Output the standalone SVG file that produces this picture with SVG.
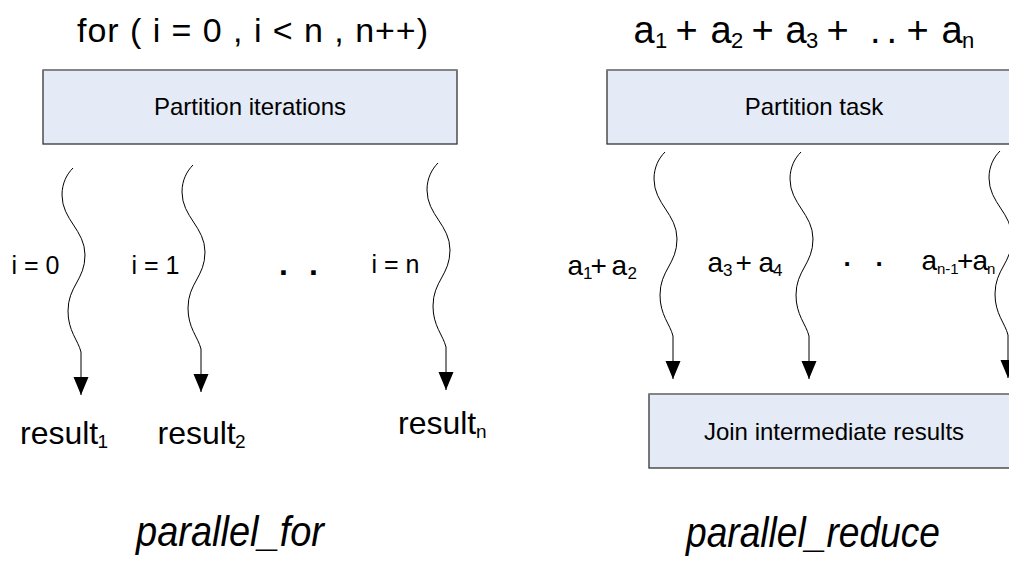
<svg xmlns="http://www.w3.org/2000/svg" width="1009" height="563" viewBox="0 0 1009 563">
<defs>
<style>
text{font-family:"Liberation Sans",Arial,Helvetica,sans-serif;fill:#000}
.box{fill:#e5ebf6;stroke:#333;stroke-width:1.3}
.boxtop{stroke:#8a8a8a;stroke-width:1.5}
.btxt{font-size:24px;text-anchor:middle}
.ttl{font-size:34px}
.lbl{font-size:25px}
.rlbl{font-size:28px}
.sub{font-size:17px}
.res{font-size:32px}
.rsub{font-size:19px}
.dot{font-size:32px;font-weight:bold}
.cap{font-size:42px;font-style:italic}
.wave{fill:none;stroke:#000;stroke-width:1;marker-end:url(#ah)}
</style>
<marker id="ah" markerUnits="userSpaceOnUse" markerWidth="18" markerHeight="16" refX="18" refY="7.5" orient="auto" viewBox="0 0 18 15">
<path d="M0,0 L18,7.5 L0,15 z" fill="#000"/>
</marker>
<path id="wv" d="M0,0 C-6,6 -11,15 -11,27 C-11,52 12,62 12,87 C12,112 -5,118 -5,143 C-5,163 5,172 8,184 L8,227"/>
</defs>
<rect width="1009" height="563" fill="#fff"/>

<g id="title-for"><text class="ttl" x="77" y="42" textLength="351" lengthAdjust="spacing">for ( i = 0 , i &lt; n , n++)</text></g>

<g id="title-sum"><text style="font-size:38px" y="43"><tspan x="633.5">a</tspan><tspan x="655" y="48" style="font-size:22px">1</tspan><tspan x="675.5" y="43">+</tspan><tspan x="710.5">a</tspan><tspan x="731" y="48" style="font-size:22px">2</tspan><tspan x="751.5" y="43">+</tspan><tspan x="785.5">a</tspan><tspan x="806" y="48" style="font-size:22px">3</tspan><tspan x="826.5" y="43">+</tspan><tspan x="870">.</tspan><tspan x="886.5">.</tspan><tspan x="906.5">+</tspan><tspan x="941.5">a</tspan><tspan x="962" y="48" style="font-size:22px">n</tspan></text></g>

<g id="box-partition-iterations">
<rect class="box" x="43" y="70" width="414" height="74"/>
<line class="boxtop" x1="43" y1="70" x2="457" y2="70"/>
<text class="btxt" x="250" y="115">Partition iterations</text>
</g>

<g id="box-partition-task">
<rect class="box" x="607" y="70" width="414" height="74"/>
<line class="boxtop" x1="607" y1="70" x2="1021" y2="70"/>
<text class="btxt" x="814" y="115">Partition task</text>
</g>

<g id="box-join">
<rect class="box" x="649" y="394" width="370" height="74"/>
<line class="boxtop" x1="649" y1="394" x2="1019" y2="394"/>
<text class="btxt" x="834" y="440">Join intermediate results</text>
</g>

<g id="connectors">
<use href="#wv" class="wave" transform="translate(73,168)"/>
<use href="#wv" class="wave" transform="translate(193,165)"/>
<use href="#wv" class="wave" transform="translate(438,163)"/>
<use href="#wv" class="wave" transform="translate(665,152)"/>
<use href="#wv" class="wave" transform="translate(801,152)"/>
<use href="#wv" class="wave" transform="translate(1000,151)"/>
</g>

<g id="label-i0"><text class="lbl" x="11.5" y="274">i = 0</text></g>
<g id="label-i1"><text class="lbl" x="131.5" y="274">i = 1</text></g>
<g id="label-dots-left"><text class="dot" x="279" y="275">.</text><text class="dot" x="309" y="275">.</text></g>
<g id="label-in"><text class="lbl" x="371.5" y="273">i = n</text></g>

<g id="label-a1a2"><text class="rlbl" y="275"><tspan x="567.5">a</tspan><tspan class="sub" x="583" y="279">1</tspan><tspan x="590.5" y="275">+</tspan><tspan x="611.5">a</tspan><tspan class="sub" x="627.5" y="279">2</tspan></text></g>
<g id="label-a3a4"><text class="rlbl" y="272"><tspan x="707.5">a</tspan><tspan class="sub" x="723" y="276">3</tspan><tspan x="735.5" y="272">+</tspan><tspan x="758.5">a</tspan><tspan class="sub" x="773" y="276">4</tspan></text></g>
<g id="label-dots-right"><text class="dot" style="font-size:26px" x="843.5" y="266">.</text><text class="dot" style="font-size:26px" x="875.5" y="266">.</text></g>
<g id="label-an1an"><text class="rlbl" y="270"><tspan x="921.5">a</tspan><tspan style="font-size:15px" x="937" y="274">n-1</tspan><tspan x="957" y="270">+</tspan><tspan x="972.5">a</tspan><tspan class="sub" style="font-size:15px" x="987" y="274">n</tspan></text></g>

<g id="result1"><text class="res" y="444"><tspan x="20">result</tspan><tspan class="rsub" x="97.5" y="448">1</tspan></text></g>
<g id="result2"><text class="res" y="444"><tspan x="157.5">result</tspan><tspan class="rsub" x="235" y="448">2</tspan></text></g>
<g id="resultn"><text class="res" y="434"><tspan x="398">result</tspan><tspan class="rsub" x="476" y="438">n</tspan></text></g>

<g id="caption-for"><text class="cap" x="136" y="546" textLength="188" lengthAdjust="spacingAndGlyphs">parallel_for</text></g>
<g id="caption-reduce"><text class="cap" x="686" y="547" textLength="254" lengthAdjust="spacingAndGlyphs">parallel_reduce</text></g>
</svg>
